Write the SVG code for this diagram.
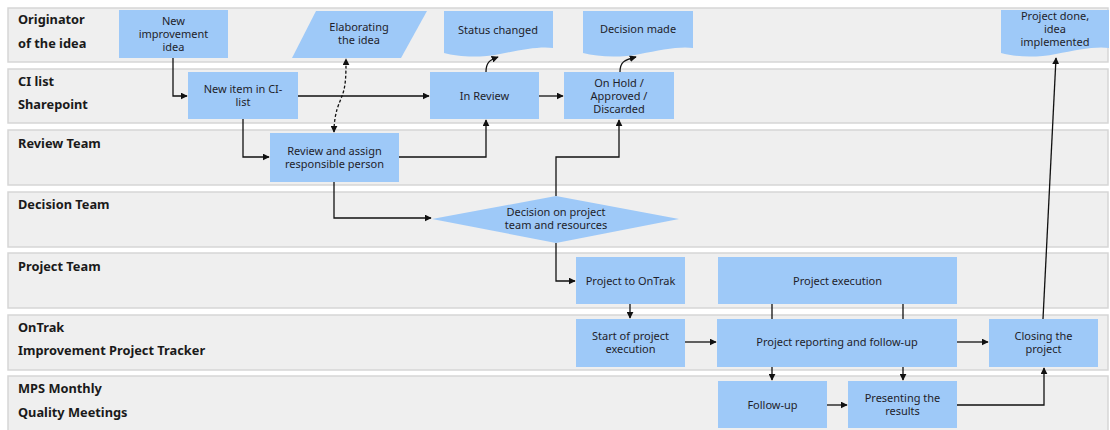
<svg xmlns="http://www.w3.org/2000/svg" width="1110" height="430" viewBox="0 0 1110 430">
<defs>
<marker id="ah" viewBox="0 0 10 10" refX="9" refY="5" markerWidth="7" markerHeight="7" markerUnits="userSpaceOnUse" orient="auto-start-reverse"><path d="M0,0 L10,5 L0,10 z" fill="#111"/></marker>
<style>
.lane{fill:#efefef;stroke:#d6d6d6;stroke-width:1.5}
.lt{font-family:"Noto Sans","Open Sans",sans-serif;font-weight:bold;font-size:12.8px;fill:#1a1a1a}
.n{fill:#9ec9f8}
.t{font-family:"Noto Sans","Open Sans",sans-serif;font-size:11px;fill:#1e1e2a;text-anchor:middle}
.c{fill:none;stroke:#111;stroke-width:1.3}
.ca{fill:none;stroke:#111;stroke-width:1.3;marker-end:url(#ah)}
</style>
</defs>
<rect width="1110" height="430" fill="#fff"/>
<g id="lanes">
<rect class="lane" x="8" y="8" width="1100" height="54"/>
<rect class="lane" x="8" y="69" width="1100" height="54"/>
<rect class="lane" x="8" y="130" width="1100" height="55"/>
<rect class="lane" x="8" y="192" width="1100" height="55"/>
<rect class="lane" x="8" y="253" width="1100" height="55"/>
<rect class="lane" x="8" y="315" width="1100" height="55"/>
<rect class="lane" x="8" y="376" width="1100" height="56"/>
<text class="lt" x="18" y="24">Originator</text>
<text class="lt" x="18" y="48">of the idea</text>
<text class="lt" x="18" y="86">CI list</text>
<text class="lt" x="18" y="109">Sharepoint</text>
<text class="lt" x="18" y="148">Review Team</text>
<text class="lt" x="18" y="209">Decision Team</text>
<text class="lt" x="18" y="271">Project Team</text>
<text class="lt" x="18" y="332">OnTrak</text>
<text class="lt" x="18" y="355">Improvement Project Tracker</text>
<text class="lt" x="18" y="393">MPS Monthly</text>
<text class="lt" x="18" y="417">Quality Meetings</text>
</g>
<g id="connectors">
<path class="ca" d="M173,58 V96 H187"/>
<path class="ca" d="M298,96 H429"/>
<path class="ca" d="M243,119 V157 H269"/>
<path class="c" d="M334,132 C334,112 340,102 342,96 C346,86 346,74 346,59" stroke-dasharray="3,2" marker-start="url(#ah)" marker-end="url(#ah)"/>
<path class="ca" d="M399,157 H486 V120"/>
<path class="ca" d="M486,72 C486,62 490,60 498,57"/>
<path class="ca" d="M539,96 H563"/>
<path class="ca" d="M620,72 C620,62 624,60 636,57"/>
<path class="ca" d="M334,182 V218 H431"/>
<path class="ca" d="M556,196 V157 H619 V120"/>
<path class="ca" d="M556,243 V281 H575"/>
<path class="ca" d="M630,304 V318"/>
<path class="ca" d="M685,342 H716"/>
<path class="c" d="M772,304 V319 M903,304 V319"/>
<path class="ca" d="M772,367 V380"/>
<path class="ca" d="M903,367 V380"/>
<path class="ca" d="M827,405 H847"/>
<path class="ca" d="M957,405 H1044 V368"/>
<path class="ca" d="M957,342 H988"/>
<path class="ca" d="M1043,319 L1056,58"/>
</g>
<g id="n-new-idea"><rect class="n" x="119" y="10" width="109" height="48"/><text class="t" x="173.5" y="25">New</text><text class="t" x="173.5" y="38">improvement</text><text class="t" x="173.5" y="51">idea</text></g>
<g id="n-elaborating"><polygon class="n" points="316,11 427,11 401,58 292,58"/><text class="t" x="359" y="31">Elaborating</text><text class="t" x="359" y="44">the idea</text></g>
<g id="n-status-changed"><path class="n" d="M444,11 H553 V48 C540,46 520,50 500,54 C480,58 458,57 444,53 Z"/><text class="t" x="498" y="34">Status changed</text></g>
<g id="n-decision-made"><path class="n" d="M583,11 H693 V48 C680,46 660,50 640,54 C620,58 598,57 583,53 Z"/><text class="t" x="638" y="33">Decision made</text></g>
<g id="n-project-done"><path class="n" d="M1001,10 H1109 V48 C1096,46 1076,50 1056,54 C1036,58 1015,57 1001,53 Z"/><text class="t" x="1055" y="20">Project done,</text><text class="t" x="1055" y="33">idea</text><text class="t" x="1055" y="46">implemented</text></g>
<g id="n-new-item"><rect class="n" x="188" y="72" width="110" height="47"/><text class="t" x="243" y="93">New item in CI-</text><text class="t" x="243" y="106">list</text></g>
<g id="n-in-review"><rect class="n" x="430" y="72" width="109" height="47"/><text class="t" x="484.5" y="100">In Review</text></g>
<g id="n-on-hold"><rect class="n" x="564" y="72" width="110" height="47"/><text class="t" x="619" y="87">On Hold /</text><text class="t" x="619" y="100">Approved /</text><text class="t" x="619" y="113">Discarded</text></g>
<g id="n-review-assign"><rect class="n" x="270" y="133" width="129" height="49"/><text class="t" x="334.5" y="155">Review and assign</text><text class="t" x="334.5" y="168">responsible person</text></g>
<g id="n-decision"><polygon class="n" points="432,219 556,196 679,219 556,243"/><text class="t" x="556" y="216">Decision on project</text><text class="t" x="556" y="229">team and resources</text></g>
<g id="n-project-to-ontrak"><rect class="n" x="576" y="257" width="109" height="47"/><text class="t" x="630.5" y="285">Project to OnTrak</text></g>
<g id="n-project-execution"><rect class="n" x="718" y="257" width="239" height="47"/><text class="t" x="837.5" y="285">Project execution</text></g>
<g id="n-start-project"><rect class="n" x="576" y="319" width="109" height="48"/><text class="t" x="630.5" y="340">Start of project</text><text class="t" x="630.5" y="353">execution</text></g>
<g id="n-reporting"><rect class="n" x="717" y="319" width="240" height="48"/><text class="t" x="837" y="346">Project reporting and follow-up</text></g>
<g id="n-closing"><rect class="n" x="989" y="319" width="109" height="48"/><text class="t" x="1043.5" y="340">Closing the</text><text class="t" x="1043.5" y="353">project</text></g>
<g id="n-follow-up"><rect class="n" x="718" y="381" width="109" height="47"/><text class="t" x="772.5" y="409">Follow-up</text></g>
<g id="n-presenting"><rect class="n" x="848" y="381" width="109" height="47"/><text class="t" x="902.5" y="402">Presenting the</text><text class="t" x="902.5" y="415">results</text></g>
</svg>
